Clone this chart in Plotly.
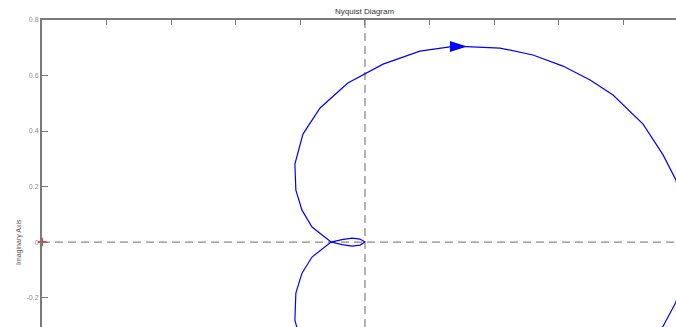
import plotly.graph_objects as go

# Nyquist curve, positive-frequency branch (real, imaginary)
pos_re = [1.0, 0.963, 0.923, 0.861, 0.768, 0.697, 0.613, 0.520, 0.418, 0.279, 0.170,
          0.056, -0.053, -0.139, -0.192, -0.217, -0.214, -0.195, -0.164, -0.105,
          -0.071, -0.040, -0.0155, 0.0]
pos_im = [0.0, 0.223, 0.314, 0.425, 0.530, 0.584, 0.634, 0.674, 0.699, 0.706, 0.688,
          0.641, 0.573, 0.483, 0.389, 0.281, 0.187, 0.115, 0.054, 0.0,
          -0.009, -0.0144, -0.0108, 0.0]

# Negative-frequency branch (mirror image about the real axis)
neg_re = [1.0, 0.963, 0.923, 0.861, 0.768, 0.697, 0.613, 0.520, 0.418, 0.279, 0.170,
          0.056, -0.053, -0.139, -0.192, -0.217, -0.214, -0.195, -0.164, -0.105,
          -0.071, -0.040, -0.0155, 0.0]
neg_im = [0.0, -0.216, -0.303, -0.425, -0.530, -0.584, -0.634, -0.674, -0.699, -0.706, -0.688,
          -0.641, -0.573, -0.483, -0.389, -0.281, -0.184, -0.112, -0.054, 0.0,
          0.009, 0.0144, 0.0108, 0.0]

# Direction arrow on the upper branch
arrow_re = [0.316]
arrow_im = [0.7045]

# Critical point
crit_re = [-1.0]
crit_im = [0.0]

x_ticks = [-1.0, -0.8, -0.6, -0.4, -0.2, 0.0, 0.2, 0.4, 0.6, 0.8, 1.0]
y_ticks = [0.8, 0.6, 0.4, 0.2, 0.0, -0.2]
y_tick_text = ["0.8", "0.6", "0.4", "0.2", "0", "-0.2"]

x_range = [-1.0, 0.963]
y_range = [-0.306, 0.8]

blue = "#0000ff"
axis_grey = "#7a7a7a"
label_grey = "#8c8c8c"
font_family = "Liberation Sans, Arial, sans-serif"

fig = go.Figure()

fig.add_trace(go.Scatter(x=pos_re, y=pos_im, mode="lines",
                         line=dict(color=blue, width=1.2), hoverinfo="skip"))
fig.add_trace(go.Scatter(x=neg_re, y=neg_im, mode="lines",
                         line=dict(color=blue, width=1.2), hoverinfo="skip"))
fig.add_trace(go.Scatter(x=arrow_re, y=arrow_im, mode="markers",
                         marker=dict(symbol="arrow", angle=90, size=18, color=blue,
                                     line=dict(width=0)),
                         hoverinfo="skip"))
fig.add_trace(go.Scatter(x=crit_re, y=crit_im, mode="markers",
                         marker=dict(symbol="cross-thin", size=6,
                                     line=dict(color="#ff0000", width=1.5)),
                         cliponaxis=False, hoverinfo="skip"))

# Dashed real and imaginary axes through the origin
dash_style = dict(color="#8a8a8a", width=1.3, dash="8px,5px")
fig.add_shape(type="line", xref="x", yref="paper", x0=0, x1=0, y0=0, y1=1,
              line=dash_style, layer="below")
fig.add_shape(type="line", xref="paper", yref="y", x0=0, x1=1, y0=0, y1=0,
              line=dash_style, layer="below")

fig.update_layout(
    width=676, height=327,
    margin=dict(l=42, r=0, t=20, b=0),
    plot_bgcolor="white", paper_bgcolor="white",
    showlegend=False,
    font=dict(family=font_family, size=7, color=label_grey),
    xaxis=dict(range=x_range, side="top", tickvals=x_ticks, showticklabels=False,
               ticks="inside", ticklen=5, tickwidth=1, tickcolor=axis_grey,
               showline=True, linecolor=axis_grey, linewidth=2,
               showgrid=False, zeroline=False, fixedrange=True),
    yaxis=dict(range=y_range, tickvals=y_ticks, ticktext=y_tick_text,
               ticks="inside", ticklen=6, tickwidth=1, tickcolor=axis_grey,
               tickfont=dict(size=7, color=label_grey),
               showline=True, linecolor=axis_grey, linewidth=2,
               showgrid=False, zeroline=False, fixedrange=True),
    annotations=[
        dict(text="Nyquist Diagram", xref="x", yref="paper", x=0.0, y=1,
             yshift=2, yanchor="bottom", showarrow=False,
             font=dict(size=8, color="#333333", family=font_family)),
        dict(text="Imaginary Axis", xref="paper", yref="y", x=0, y=0.0,
             xshift=-29, textangle=-90, showarrow=False,
             font=dict(size=7, color="#555555", family=font_family)),
    ],
)

fig.write_html("out.html")
